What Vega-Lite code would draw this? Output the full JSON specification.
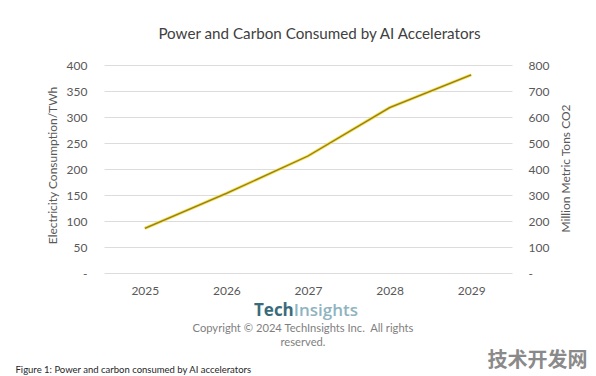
{
  "$schema": "https://vega.github.io/schema/vega-lite/v6.json",
  "width": 408,
  "height": 208,
  "autosize": "none",
  "padding": {"left": 104, "top": 65, "right": 84, "bottom": 103},
  "background": "white",
  "data": {
    "values": [
      {"year": "2025", "power": 86, "co2": 172},
      {"year": "2026", "power": 153, "co2": 306},
      {"year": "2027", "power": 225, "co2": 450},
      {"year": "2028", "power": 318, "co2": 636},
      {"year": "2029", "power": 381, "co2": 762}
    ]
  },
  "config": {
    "view": {"stroke": null},
    "font": "Lato",
    "axis": {
      "labelFont": "Lato",
      "titleFont": "Lato",
      "labelColor": "#595959",
      "titleColor": "#595959",
      "titleFontWeight": "normal",
      "labelFontSize": 12,
      "titleFontSize": 12,
      "ticks": false,
      "tickSize": 0,
      "domain": false
    }
  },
  "layer": [
    {
      "mark": {"type": "line", "color": "#F7DC3A", "strokeWidth": 3},
      "encoding": {
        "x": {
          "field": "year", "type": "ordinal",
          "axis": {
            "orient": "bottom", "labelAngle": 0, "labelPadding": 12, "grid": false,
            "title": ["Copyright © 2024 TechInsights Inc. \u00a0All rights", "reserved."],
            "titleX": 198.5, "titleY": 58, "titleAlign": "center", "titleBaseline": "alphabetic",
            "titleFontSize": 11.2, "titleColor": "#7F7F7F", "titleLineHeight": 14
          }
        },
        "y": {
          "field": "power", "type": "quantitative",
          "scale": {"domain": [0, 400]},
          "axis": {
            "orient": "left",
            "values": [0, 50, 100, 150, 200, 250, 300, 350, 400],
            "labelExpr": "datum.value == 0 ? '-' : datum.label",
            "labelPadding": 17, "grid": true, "gridColor": "#DCDCDC",
            "title": "Electricity Consumption/TWh",
            "titleX": -52, "titleY": 100, "titleAngle": 270,
            "titleAlign": "center", "titleBaseline": "middle"
          }
        }
      }
    },
    {
      "mark": {"type": "line", "color": "#8F7E24", "strokeWidth": 1.3},
      "encoding": {
        "x": {
          "field": "year", "type": "ordinal",
          "axis": {
            "orient": "top", "labels": false, "grid": false,
            "title": "Power and Carbon Consumed by AI Accelerators",
            "titleX": 215, "titleY": -27, "titleAlign": "center", "titleBaseline": "alphabetic",
            "titleFontSize": 15.2, "titleColor": "#404040"
          }
        },
        "y": {
          "field": "co2", "type": "quantitative",
          "scale": {"domain": [0, 800]},
          "axis": {
            "orient": "right",
            "values": [0, 100, 200, 300, 400, 500, 600, 700, 800],
            "labelExpr": "datum.value == 0 ? '-' : datum.label",
            "labelPadding": 16, "grid": false,
            "title": "Million Metric Tons CO2",
            "titleX": 53, "titleY": 103, "titleAngle": 270,
            "titleAlign": "center", "titleBaseline": "middle"
          }
        }
      }
    },
    {
      "mark": {"type": "point", "opacity": 0},
      "encoding": {
        "x": {
          "field": "year", "type": "ordinal",
          "axis": {
            "orient": "bottom", "labels": false, "grid": false,
            "title": "Tech",
            "titleX": 189.3, "titleY": 42.7, "titleAlign": "right", "titleBaseline": "alphabetic",
            "titleFont": "Open Sans", "titleFontSize": 17, "titleFontWeight": "bold", "titleColor": "#3A6B7B"
          }
        },
        "y": {
          "field": "power", "type": "quantitative",
          "axis": {
            "orient": "left", "labels": false, "grid": false,
            "title": "Insights",
            "titleX": 189.3, "titleY": 250.7, "titleAngle": 0, "titleAlign": "left", "titleBaseline": "alphabetic",
            "titleFont": "Open Sans", "titleFontSize": 17, "titleFontWeight": 600, "titleColor": "#8FB3C0"
          }
        }
      }
    },
    {
      "mark": {"type": "point", "opacity": 0},
      "encoding": {
        "x": {
          "field": "year", "type": "ordinal",
          "axis": {
            "orient": "bottom", "labels": false, "grid": false,
            "title": "Figure 1: Power and carbon consumed by AI accelerators",
            "titleX": -89, "titleY": 99, "titleAlign": "left", "titleBaseline": "alphabetic",
            "titleFontSize": 9.5, "titleColor": "#262626"
          }
        },
        "y": {
          "field": "co2", "type": "quantitative",
          "axis": {
            "orient": "left", "labels": false, "grid": false,
            "title": "技术开发网",
            "titleX": 383, "titleY": 301, "titleAngle": 0, "titleAlign": "left", "titleBaseline": "alphabetic",
            "titleFont": "Noto Sans CJK SC", "titleFontSize": 20, "titleFontWeight": "bold", "titleColor": "#8A8A8A"
          }
        }
      }
    }
  ],
  "resolve": {
    "scale": {"y": "independent"},
    "axis": {"x": "independent", "y": "independent"}
  }
}
